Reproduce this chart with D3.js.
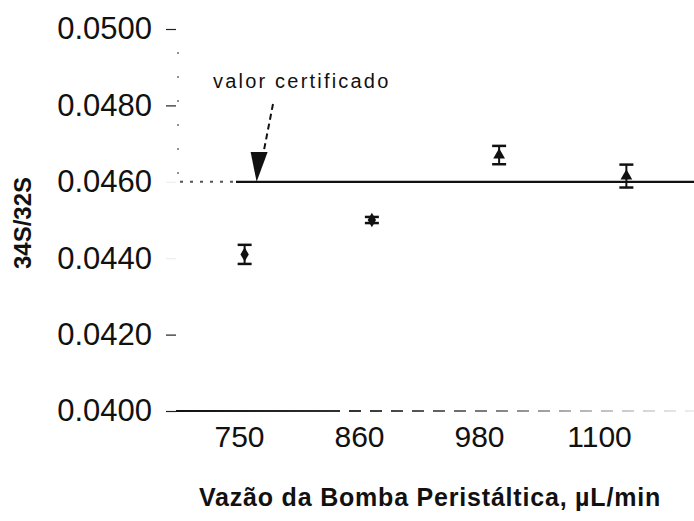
<!DOCTYPE html>
<html>
<head>
<meta charset="utf-8">
<script src="https://cdn.jsdelivr.net/npm/d3@7"></script>
<style>
  html, body { margin: 0; padding: 0; background: #fff; }
  svg { display: block; font-family: "Liberation Sans", Arial, sans-serif; }
</style>
</head>
<body>
<svg id="chart" width="694" height="521"></svg>
<script>
// Flow rates of the peristaltic pump (µL/min)
const categories = ["750", "860", "980", "1100"];
// Mean 34S/32S ratio measured at each flow rate
const ratios = [0.0441, 0.0450, 0.0467, 0.04615];
// Standard deviation of each mean
const errors = [0.00025, 0.00008, 0.00024, 0.0003];
// Certified value of the reference material
const certifiedValue = 0.0460;
// Y-axis tick values
const yTicks = [0.0400, 0.0420, 0.0440, 0.0460, 0.0480, 0.0500];
const markerShapes = ["diamond", "diamond", "triangle", "triangle"];

const svg = d3.select("#chart");
const W = 694, H = 521;
const axisX = 176;

// point positions and the (slightly narrower) category label positions
const x = d3.scalePoint().domain(categories).range([181, 690]).padding(0.5);
const xLabel = d3.scalePoint().domain(categories).range([179, 659]).padding(0.5);
const y = d3.scaleLinear().domain([0.0400, 0.0500]).range([411, 29]);

// Gradient so the bottom baseline fades out to the right
const defs = svg.append("defs");
const grad = defs.append("linearGradient").attr("id", "fade")
  .attr("gradientUnits", "userSpaceOnUse")
  .attr("x1", axisX).attr("x2", W).attr("y1", 0).attr("y2", 0);
grad.append("stop").attr("offset", "0%").attr("stop-color", "#111");
grad.append("stop").attr("offset", "35%").attr("stop-color", "#333");
grad.append("stop").attr("offset", "80%").attr("stop-color", "#bbb");
grad.append("stop").attr("offset", "100%").attr("stop-color", "#eee");

// Y axis
const yAxis = d3.axisLeft(y).tickValues(yTicks).tickFormat(d3.format(".4f"))
  .tickSize(10).tickPadding(14);
const gy = svg.append("g").attr("transform", `translate(${axisX},0)`).call(yAxis);
gy.select(".domain").remove();
gy.selectAll(".tick line")
  .attr("stroke", d => (d === 0.0460 || d === 0.0440) ? "#eee" : "#222")
  .attr("stroke-width", 1.2);
gy.selectAll(".tick text").attr("font-size", 31).attr("fill", "#111")
  .attr("font-family", "Liberation Sans, Arial, sans-serif");

// faint dotted axis line
svg.append("line")
  .attr("x1", axisX + 2).attr("x2", axisX + 2)
  .attr("y1", y(0.0494)).attr("y2", y(0.0458))
  .attr("stroke", "#888").attr("stroke-width", 1.8)
  .attr("stroke-dasharray", "2,22");

// Baseline at the bottom of the value range
const yb = y(0.0400);
svg.append("line")
  .attr("x1", axisX).attr("x2", 328).attr("y1", yb).attr("y2", yb)
  .attr("stroke", "url(#fade)").attr("stroke-width", 2.2);
svg.append("line")
  .attr("x1", 328).attr("x2", W).attr("y1", yb).attr("y2", yb)
  .attr("stroke", "url(#fade)").attr("stroke-width", 2)
  .attr("stroke-dasharray", "12,9");

// X axis labels
const xAxis = d3.axisBottom(xLabel).tickSize(0).tickPadding(0);
const gx = svg.append("g").attr("transform", `translate(0,${yb})`).call(xAxis);
gx.select(".domain").remove();
gx.selectAll(".tick text").attr("font-size", 30).attr("fill", "#111")
  .attr("font-family", "Liberation Sans, Arial, sans-serif")
  .attr("dy", null).attr("y", 36);

// Certified value reference line
const yc = y(certifiedValue);
svg.append("line")
  .attr("x1", axisX + 4).attr("x2", 236).attr("y1", yc).attr("y2", yc)
  .attr("stroke", "#555").attr("stroke-width", 2).attr("stroke-dasharray", "3,7");
svg.append("line")
  .attr("x1", 236).attr("x2", W).attr("y1", yc).attr("y2", yc)
  .attr("stroke", "#111").attr("stroke-width", 2.2);

// Error bars
const data = categories.map((c, i) => ({ c, v: ratios[i], e: errors[i], s: markerShapes[i] }));
const bars = svg.append("g").selectAll("g").data(data).join("g");
bars.append("line")
  .attr("x1", d => x(d.c)).attr("x2", d => x(d.c))
  .attr("y1", d => y(d.v + d.e)).attr("y2", d => y(d.v - d.e))
  .attr("stroke", "#111").attr("stroke-width", 2);
bars.selectAll("line.cap").data(d => [d.v + d.e, d.v - d.e].map(v => ({ c: d.c, v })))
  .join("line").attr("class", "cap")
  .attr("x1", d => x(d.c) - 7).attr("x2", d => x(d.c) + 7)
  .attr("y1", d => y(d.v)).attr("y2", d => y(d.v))
  .attr("stroke", "#111").attr("stroke-width", 2.5);

// Markers
const sym = { diamond: d3.symbolDiamond, triangle: d3.symbolTriangle };
svg.append("g").selectAll("path").data(data).join("path")
  .attr("transform", d => `translate(${x(d.c)},${y(d.v)})`)
  .attr("d", d => d3.symbol().type(sym[d.s]).size(60)())
  .attr("fill", "#111");

// Annotation for the certified value
const tipX = x("750") + 12;
svg.append("text").attr("x", 213).attr("y", 88)
  .attr("font-size", 20).attr("letter-spacing", 2.2).attr("fill", "#111")
  .text("valor certificado");
svg.append("line")
  .attr("x1", 273).attr("y1", 104).attr("x2", tipX + 7).attr("y2", 152)
  .attr("stroke", "#111").attr("stroke-width", 2).attr("stroke-dasharray", "6,4");
svg.append("path")
  .attr("d", `M${tipX - 6},${152} L${tipX + 11},${152} L${tipX},${yc} Z`)
  .attr("fill", "#111");

// Axis titles
svg.append("text")
  .attr("transform", `translate(31,223) rotate(-90)`)
  .attr("text-anchor", "middle").attr("font-size", 24).attr("font-weight", "bold")
  .attr("fill", "#111").text("34S/32S");
svg.append("text")
  .attr("x", 430).attr("y", 506).attr("text-anchor", "middle")
  .attr("font-size", 25).attr("font-weight", "bold").attr("letter-spacing", 0.8)
  .attr("fill", "#111")
  .text("Vazão da Bomba Peristáltica, µL/min");
</script>
</body>
</html>
